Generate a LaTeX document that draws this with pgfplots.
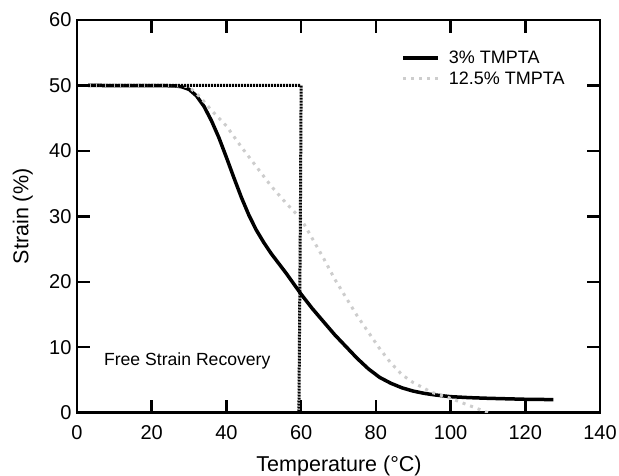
\documentclass[border=0pt]{standalone}
\usepackage{pgfplots}
\pgfplotsset{compat=1.18}
\usepackage{fontspec}
\setmainfont{Liberation Sans}
\definecolor{lgray}{RGB}{205,205,205}
\begin{document}
\begin{tikzpicture}
\path[use as bounding box] (-77pt,-63.3pt) rectangle (542pt,412.7pt);
\begin{axis}[
  at={(0,0)}, anchor=south west,
  scale only axis, width=523pt, height=392.7pt,
  xmin=0, xmax=140, ymin=0, ymax=60,
  xtick={0,20,...,140}, ytick={0,10,...,60},
  tick align=inside, major tick length=13pt,
  tick style={line width=2.5pt, black},
  axis line style={line width=2.5pt},
  /pgf/number format/assume math mode=true,
  tick label style={font=\fontsize{20}{24}\selectfont},
  xticklabel style={yshift=-9pt},
  yticklabel style={xshift=-2pt},
  label style={font=\fontsize{21.5}{25}\selectfont},
  xlabel={Temperature (°C)},
  ylabel={Strain (\%)},
  xlabel style={at={(rel axis cs:0.501,0)}, anchor=center, yshift=-53.3pt},
  ylabel style={at={(rel axis cs:0,0.5)}, anchor=center, yshift=54.3pt},
  legend style={draw=none, fill=none, at={(rel axis cs:0.62,0.927)}, anchor=north west,
    inner sep=0pt, row sep=3pt, font=\fontsize{18}{20}\selectfont,
    /tikz/every odd column/.append style={column sep=7pt}},
  legend cell align=left,
  legend image code/.code={\draw[#1] (0pt,0pt) -- (35pt,0pt);},
]
\addplot[black, line width=3.5pt] coordinates {
(3,50) (26,49.95) (28,49.8) (30,49.4) (32,48.4) (34,46.8) (36,44.6) (38,42.0) (40,39.0) (42,35.9) (44,32.9) (46,30.2) (48,27.9) (50,26.0) (52,24.3) (54,22.8) (56,21.3) (58,19.7) (60,18.1) (63,15.9) (66,13.9) (69,11.9) (72,10.1) (75,8.3) (78,6.7) (81,5.4) (84,4.5) (87,3.8) (90,3.3) (93,2.95) (96,2.7) (100,2.45) (105,2.3) (110,2.2) (120,2.05) (127.5,2.0)
};
\addlegendentry{3\% TMPTA}
\addplot[lgray, line width=3pt, dash pattern=on 3pt off 5pt] coordinates {
(3,50) (28,49.95) (30,49.8) (33,48.2) (36,46.2) (40,43.8) (44,40.6) (48,37.6) (52,34.6) (56,32.0) (60,29.6) (63,26.6) (66,23.6) (69,20.4) (72,17.6) (75,14.8) (78,12.3) (81,9.8) (84,7.6) (87,5.8) (90,4.6) (95,3.1) (100,2.2) (105,1.1) (110,0)
};
\addlegendentry{12.5\% TMPTA}
\addplot[black, line width=3pt, dash pattern=on 2pt off 1pt, forget plot] coordinates {
(3,50) (60,50) (59.8,30) (59.4,0)
};
\node[anchor=west, inner sep=0pt, font=\fontsize{17.6}{20}\selectfont] at (axis cs:7.2,7.9) {Free Strain Recovery};
\end{axis}
\end{tikzpicture}
\end{document}
